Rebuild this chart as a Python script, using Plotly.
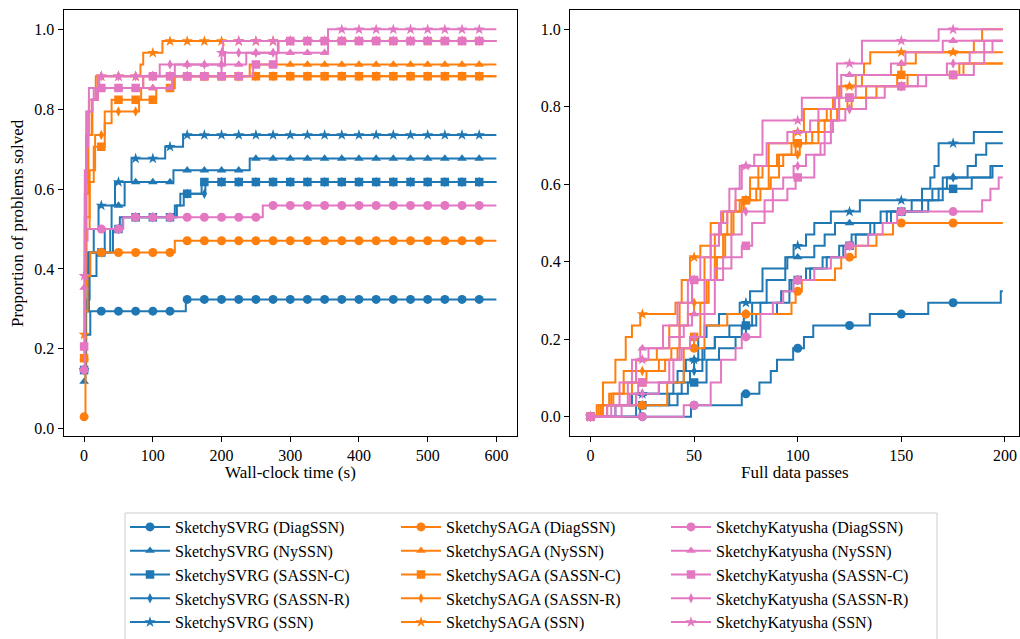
import numpy as np
import plotly.graph_objects as go

# ---------------- data ----------------
N_PROBLEMS = 34
solvers = ["SketchySVRG", "SketchySAGA", "SketchyKatyusha"]
preconds = ["DiagSSN", "NySSN", "SASSN-C", "SASSN-R", "SSN"]

time_end = 600
time_marks = list(range(0, 600, 25))
time_ticks = [0, 100, 200, 300, 400, 500, 600]
pass_end = 199
pass_marks = list(range(0, 200, 25))
pass_ticks = [0, 50, 100, 150, 200]
y_ticks = [0.0, 0.2, 0.4, 0.6, 0.8, 1.0]

# (wall-clock time, problems solved) step points
svrg_diag_time = [(0, 5), (1.5, 8), (9, 10), (148, 11)]
svrg_ny_time = [(0, 4), (2, 10), (7, 13), (18, 15), (30, 17), (40, 19), (59, 21), (130, 22), (241, 23)]
svrg_sassnc_time = [(0, 5), (2, 10), (6, 15), (38, 17), (52, 18), (132, 19), (140, 20), (171, 21)]
svrg_sassnr_time = [(0, 5), (3, 11), (8, 15), (42, 17), (56, 18), (135, 19), (145, 20), (176.5, 21)]
svrg_ssn_time = [(0, 5), (2, 12), (5, 15), (14, 17), (21, 19), (45, 21), (69, 23), (118, 24), (144, 25)]

saga_diag_time = [(0, 1), (2, 10), (5, 13), (9, 15), (132, 16)]
saga_ny_time = [(0, 6), (1, 14), (3, 20), (6, 25), (12, 28), (20, 29), (130, 30), (241, 31)]
saga_sassnc_time = [(0, 6), (1, 12), (3, 17), (8, 21), (14, 24), (30, 26), (40, 28), (105, 29), (132, 30)]
saga_sassnr_time = [(0, 6), (1, 12), (3, 18), (8, 22), (16, 25), (30, 27), (80, 28), (83, 29), (86, 30)]
saga_ssn_time = [(0, 8), (1, 15), (3, 21), (6, 25), (11, 28), (17, 30), (82, 31), (86, 32), (114, 33)]

kat_diag_time = [(0, 5), (1, 13), (2, 16), (5, 17), (57, 18), (260, 19)]
kat_ny_time = [(0, 12), (1, 20), (3, 25), (6, 27), (12, 28), (20, 29), (128, 30), (132, 31), (236, 32), (355, 33)]
kat_sassnc_time = [(0, 7), (1, 17), (3, 24), (6, 27), (12, 28), (18, 29), (86, 30), (246, 31), (280, 32), (283, 33)]
kat_sassnr_time = [(0, 7), (1, 18), (3, 25), (7, 28), (14, 29), (22, 30), (110, 31), (205, 32), (282, 33)]
kat_ssn_time = [(0, 13), (1, 22), (3, 27), (7, 29), (20, 30), (200, 32), (202, 33), (355, 34)]

# (full data passes, problems solved) step points
svrg_diag_pass = [(0, 0), (48.5, 1), (73, 2), (81.5, 3), (87, 4), (90, 5), (97.8, 6), (103, 7), (107.5, 8),
                  (134.8, 9), (163, 10), (198, 11)]
svrg_ny_pass = [(0, 0), (8, 1), (20, 2), (40, 3), (45, 4), (50, 5), (55, 6), (60, 7), (73, 8), (78, 10), (85, 12),
                (94, 14), (108, 15), (113, 16), (118, 17), (140, 18), (155, 19), (165, 20), (170, 21), (182, 22),
                (186, 23), (191, 24)]
svrg_sassnc_pass = [(0, 0), (24, 1), (42, 2), (47, 3), (56, 5), (62, 6), (70, 7), (75, 8), (80, 9), (90, 10),
                    (96, 12), (104, 13), (112, 14), (120, 15), (126, 16), (135, 17), (145, 18), (163, 19),
                    (170, 20), (184, 21), (194, 22)]
svrg_sassnr_pass = [(0, 0), (22, 1), (38, 2), (44, 3), (48, 4), (54, 6), (60, 7), (67, 8), (74, 9), (82, 10),
                    (92, 11), (97, 12), (106, 13), (114, 14), (122, 15), (128, 16), (137, 17), (143, 18),
                    (160, 19), (168, 20), (172, 21), (193, 22)]
svrg_ssn_pass = [(0, 0), (12, 1), (22, 2), (33, 3), (42, 4), (46, 5), (52, 7), (56, 8), (62, 9), (72, 10), (77, 11),
                 (83, 13), (95, 14), (98, 15), (104, 16), (108, 17), (116, 18), (130, 19), (160, 20), (164, 21),
                 (166, 22), (168, 24), (185, 25)]

saga_diag_pass = [(0, 0), (8, 1), (37, 3), (45, 6), (55, 8), (66, 9), (97, 10), (99, 11), (102, 12), (118, 13),
                  (121, 14), (128, 15), (138, 16), (146, 17)]
saga_ny_pass = [(0, 0), (5, 1), (10, 2), (16, 4), (22, 5), (32, 6), (38, 8), (43, 10), (49, 12), (55, 14), (60, 16),
                (66, 18), (72, 19), (77, 21), (83, 22), (90, 23), (97, 24), (110, 26), (114, 27), (120, 29),
                (131, 30), (150, 31), (157, 32)]
saga_sassnc_pass = [(0, 0), (4, 1), (9, 2), (20, 3), (27, 4), (36, 5), (42, 6), (50, 7), (53, 10), (57, 12),
                    (60, 14), (64, 16), (68, 18), (73, 19), (80, 20), (87, 21), (91, 23), (99, 24), (104, 25),
                    (110, 26), (116, 27), (124, 28), (133, 29), (148, 30), (180, 31)]
saga_sassnr_pass = [(0, 0), (6, 1), (11, 2), (16, 3), (22, 4), (33, 5), (39, 6), (43, 8), (47, 9), (50, 10),
                    (56, 12), (61, 14), (65, 16), (69, 18), (74, 19), (82, 20), (86, 22), (93, 23), (101, 24),
                    (107, 25), (113, 26), (119, 27), (126, 28), (138, 29), (153, 30), (178, 31)]
saga_ssn_pass = [(0, 0), (3, 1), (6, 3), (12, 5), (17, 7), (20, 8), (24, 9), (41, 10), (44, 12), (48, 14), (53, 15),
                 (58, 17), (64, 18), (70, 19), (77, 20), (81, 22), (86, 24), (98, 25), (103, 27), (117, 28),
                 (121, 29), (128, 30), (132, 31), (135, 32), (185, 33), (189, 34)]

kat_diag_pass = [(0, 0), (45, 1), (58, 3), (63, 5), (70, 6), (73, 7), (82, 9), (88, 10), (93, 11), (98, 12),
                 (108, 13), (116, 14), (123, 15), (134, 16), (141, 17), (148, 18), (189, 19), (193, 20), (197, 21)]
kat_ny_pass = [(0, 0), (8, 1), (14, 3), (20, 5), (24, 6), (38, 7), (45, 8), (49, 9), (55, 12), (58, 15), (62, 17),
               (66, 18), (70, 20), (73, 22), (85, 24), (95, 25), (106, 26), (110, 27), (118, 28), (121, 30),
               (145, 31), (152, 32), (170, 33)]
kat_sassnc_pass = [(0, 0), (12, 1), (19, 2), (23, 3), (40, 5), (43, 8), (47, 10), (49, 12), (60, 13), (68, 14),
                   (73, 15), (78, 17), (84, 18), (88, 19), (95, 20), (99, 21), (108, 23), (113, 25), (117, 26),
                   (120, 28), (128, 29), (162, 30), (185, 31), (190, 32), (194, 33)]
kat_sassnr_pass = [(0, 0), (15, 1), (22, 2), (33, 3), (38, 5), (44, 6), (48, 7), (55, 9), (60, 12), (64, 14),
                   (68, 16), (73, 18), (84, 19), (88, 20), (93, 21), (98, 22), (104, 23), (111, 24), (116, 26),
                   (123, 27), (133, 28), (142, 29), (158, 30), (172, 31), (183, 32), (190, 33)]
kat_ssn_pass = [(0, 0), (10, 1), (18, 3), (22, 5), (28, 6), (35, 8), (42, 10), (47, 12), (53, 14), (58, 16),
                (63, 18), (67, 20), (72, 22), (79, 23), (83, 26), (102, 28), (119, 31), (131, 33), (168, 34)]

# ---------------- styling ----------------
colors = {"SketchySVRG": "#1f77b4", "SketchySAGA": "#ff7f0e", "SketchyKatyusha": "#e377c2"}
symbols = {"DiagSSN": "circle", "NySSN": "triangle-up", "SASSN-C": "square",
           "SASSN-R": "diamond-tall", "SSN": "star"}
msizes = {"DiagSSN": 9, "NySSN": 8.5, "SASSN-C": 8.5, "SASSN-R": 7.5, "SSN": 8.5}
legend_ids = {"SketchySVRG": "legend", "SketchySAGA": "legend2", "SketchyKatyusha": "legend3"}
FONT = "Liberation Serif"

time_data = {
    ("SketchySVRG", "DiagSSN"): svrg_diag_time, ("SketchySVRG", "NySSN"): svrg_ny_time,
    ("SketchySVRG", "SASSN-C"): svrg_sassnc_time, ("SketchySVRG", "SASSN-R"): svrg_sassnr_time,
    ("SketchySVRG", "SSN"): svrg_ssn_time,
    ("SketchySAGA", "DiagSSN"): saga_diag_time, ("SketchySAGA", "NySSN"): saga_ny_time,
    ("SketchySAGA", "SASSN-C"): saga_sassnc_time, ("SketchySAGA", "SASSN-R"): saga_sassnr_time,
    ("SketchySAGA", "SSN"): saga_ssn_time,
    ("SketchyKatyusha", "DiagSSN"): kat_diag_time, ("SketchyKatyusha", "NySSN"): kat_ny_time,
    ("SketchyKatyusha", "SASSN-C"): kat_sassnc_time, ("SketchyKatyusha", "SASSN-R"): kat_sassnr_time,
    ("SketchyKatyusha", "SSN"): kat_ssn_time,
}
pass_data = {
    ("SketchySVRG", "DiagSSN"): svrg_diag_pass, ("SketchySVRG", "NySSN"): svrg_ny_pass,
    ("SketchySVRG", "SASSN-C"): svrg_sassnc_pass, ("SketchySVRG", "SASSN-R"): svrg_sassnr_pass,
    ("SketchySVRG", "SSN"): svrg_ssn_pass,
    ("SketchySAGA", "DiagSSN"): saga_diag_pass, ("SketchySAGA", "NySSN"): saga_ny_pass,
    ("SketchySAGA", "SASSN-C"): saga_sassnc_pass, ("SketchySAGA", "SASSN-R"): saga_sassnr_pass,
    ("SketchySAGA", "SSN"): saga_ssn_pass,
    ("SketchyKatyusha", "DiagSSN"): kat_diag_pass, ("SketchyKatyusha", "NySSN"): kat_ny_pass,
    ("SketchyKatyusha", "SASSN-C"): kat_sassnc_pass, ("SketchyKatyusha", "SASSN-R"): kat_sassnr_pass,
    ("SketchyKatyusha", "SSN"): kat_ssn_pass,
}


def step_series(points, x_end, marks):
    bx = np.array([p[0] for p in points], dtype=float)
    by = np.array([p[1] for p in points], dtype=float) / N_PROBLEMS
    lx = np.append(bx, x_end)
    ly = np.append(by, by[-1])
    m = np.array(marks, dtype=float)
    idx = np.searchsorted(bx, m, side="right") - 1
    return lx, ly, m, by[idx]


fig = go.Figure()
for s in solvers:
    for p in preconds:
        c = colors[s]
        for data, x_end, marks, xa, ya in [(time_data, time_end, time_marks, "x", "y"),
                                          (pass_data, pass_end, pass_marks, "x2", "y2")]:
            lx, ly, mx, my = step_series(data[(s, p)], x_end, marks)
            fig.add_trace(go.Scatter(x=lx, y=ly, mode="lines", line=dict(color=c, width=2, shape="hv"),
                                     xaxis=xa, yaxis=ya, showlegend=False, hoverinfo="skip"))
            fig.add_trace(go.Scatter(x=mx, y=my, mode="markers",
                                     marker=dict(color=c, symbol=symbols[p], size=msizes[p], line=dict(width=0)),
                                     xaxis=xa, yaxis=ya, showlegend=False, hoverinfo="skip"))
        # legend entry
        fig.add_trace(go.Scatter(x=[None], y=[None], mode="lines+markers", name=f"{s} ({p})",
                                 line=dict(color=c, width=2),
                                 marker=dict(color=c, symbol=symbols[p], size=msizes[p]),
                                 legend=legend_ids[s], xaxis="x", yaxis="y"))

W, H = 1020, 639
ytop, ybot = 10, 436
ydom = [(H - ybot) / H, (H - ytop) / H]
axis_common = dict(showline=True, linecolor="black", linewidth=1, mirror=True, ticks="outside",
                   ticklen=5, tickwidth=1, tickcolor="black", showgrid=False, zeroline=False,
                   tickfont=dict(family=FONT, size=16, color="black"))

legend_common = dict(orientation="v", yanchor="top", xanchor="left", y=(H - 510) / H,
                     traceorder="normal", font=dict(family=FONT, size=16, color="black"),
                     borderwidth=0, bgcolor="rgba(0,0,0,0)", itemwidth=40)

fig.update_layout(
    width=W, height=H, autosize=False,
    margin=dict(l=0, r=0, t=0, b=0, autoexpand=False),
    paper_bgcolor="white", plot_bgcolor="white",
    font=dict(family=FONT, size=16, color="black"),
    xaxis=dict(domain=[63.5 / W, 517 / W], range=[-30, 630], tickvals=time_ticks, anchor="y", **axis_common),
    yaxis=dict(domain=ydom, range=[-0.0185, 1.0485], tickvals=y_ticks, tickformat=".1f", anchor="x",
               **axis_common),
    xaxis2=dict(domain=[570 / W, 1019 / W], range=[-9.9, 206.8], tickvals=pass_ticks, anchor="y2",
                **axis_common),
    yaxis2=dict(domain=ydom, range=[-0.05, 1.05], tickvals=y_ticks, tickformat=".1f", anchor="x2",
                **axis_common),
    legend=dict(x=125 / W, **legend_common),
    legend2=dict(x=396 / W, **legend_common),
    legend3=dict(x=666 / W, **legend_common),
    shapes=[dict(type="rect", xref="paper", yref="paper", x0=125 / W, x1=937 / W,
                 y0=-0.05, y1=(H - 513) / H, line=dict(color="#cccccc", width=1), fillcolor="rgba(0,0,0,0)",
                 layer="below")],
    annotations=[
        dict(text="Wall-clock time (s)", x=290 / W, y=(H - 472) / H, xref="paper", yref="paper",
             showarrow=False, font=dict(family=FONT, size=17), xanchor="center", yanchor="middle"),
        dict(text="Full data passes", x=795 / W, y=(H - 472) / H, xref="paper", yref="paper",
             showarrow=False, font=dict(family=FONT, size=17), xanchor="center", yanchor="middle"),
        dict(text="Proportion of problems solved", x=17 / W, y=(H - 223) / H, xref="paper", yref="paper",
             showarrow=False, textangle=-90, font=dict(family=FONT, size=17),
             xanchor="center", yanchor="middle"),
    ],
)

fig.write_html("out.html", config={"displayModeBar": False},
               post_script="document.body.style.margin='0';")
